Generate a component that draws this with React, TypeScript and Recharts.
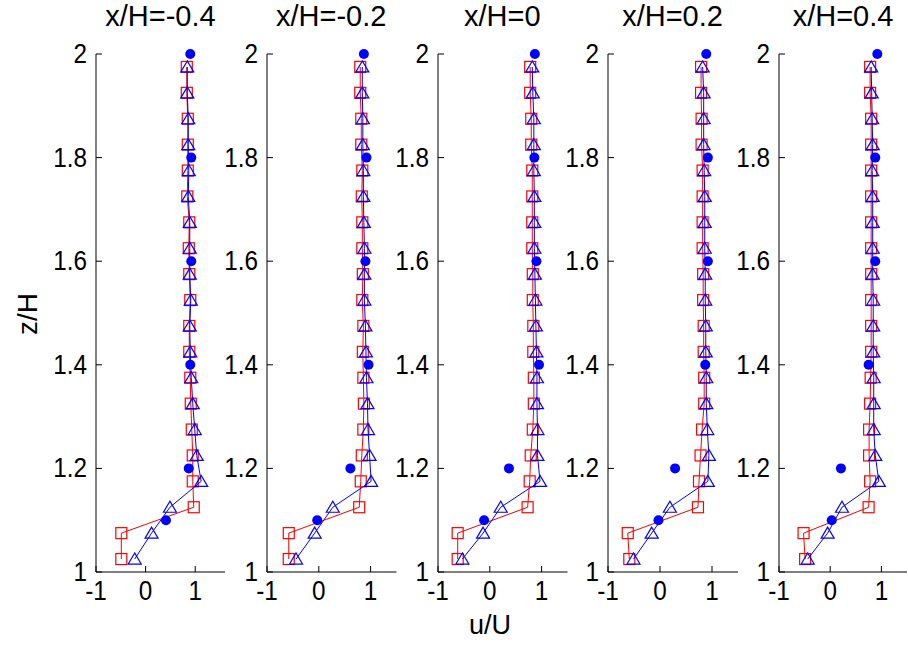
import React from "react";
import { ComposedChart, Scatter, XAxis, YAxis } from "recharts";

// z/H levels of the square / triangle profiles (bottom to top)
const Z_LEVELS = [
  1.025, 1.075, 1.125, 1.175, 1.225, 1.275, 1.325, 1.375, 1.425, 1.475,
  1.525, 1.575, 1.625, 1.675, 1.725, 1.775, 1.825, 1.875, 1.925, 1.975,
];
// z/H levels of the filled dots
const DOT_Z = [1.1, 1.2, 1.4, 1.6, 1.8, 2.0];

const TITLES = ["x/H=-0.4", "x/H=-0.2", "x/H=0", "x/H=0.2", "x/H=0.4"];
const Y_TICKS = [1, 1.2, 1.4, 1.6, 1.8, 2];
const X_TICKS = [-1, 0, 1];

// red squares
const SQ_1 = [-0.49, -0.49, 0.97, 0.95, 0.95, 0.93, 0.91, 0.9, 0.88, 0.88, 0.9, 0.88, 0.87, 0.88, 0.84, 0.85, 0.85, 0.85, 0.83, 0.83];
const SQ_2 = [-0.58, -0.58, 0.78, 0.81, 0.83, 0.86, 0.87, 0.86, 0.85, 0.86, 0.84, 0.85, 0.84, 0.84, 0.83, 0.84, 0.82, 0.82, 0.8, 0.8];
const SQ_3 = [-0.62, -0.62, 0.73, 0.77, 0.79, 0.83, 0.85, 0.85, 0.84, 0.84, 0.83, 0.83, 0.82, 0.82, 0.82, 0.82, 0.8, 0.8, 0.78, 0.78];
const SQ_4 = [-0.59, -0.62, 0.73, 0.75, 0.78, 0.81, 0.85, 0.85, 0.84, 0.84, 0.83, 0.83, 0.82, 0.82, 0.82, 0.82, 0.8, 0.8, 0.79, 0.79];
const SQ_5 = [-0.49, -0.52, 0.75, 0.78, 0.76, 0.76, 0.78, 0.79, 0.8, 0.8, 0.8, 0.8, 0.8, 0.8, 0.8, 0.8, 0.8, 0.8, 0.78, 0.78];

// blue triangles
const TRI_1 = [-0.22, 0.12, 0.49, 1.12, 1.03, 0.99, 0.95, 0.92, 0.9, 0.89, 0.91, 0.89, 0.89, 0.89, 0.86, 0.87, 0.86, 0.86, 0.84, 0.84];
const TRI_2 = [-0.44, -0.08, 0.27, 1.01, 0.98, 0.95, 0.94, 0.92, 0.91, 0.9, 0.88, 0.88, 0.88, 0.87, 0.86, 0.86, 0.85, 0.85, 0.84, 0.84];
const TRI_3 = [-0.53, -0.13, 0.21, 0.97, 0.92, 0.92, 0.91, 0.91, 0.9, 0.89, 0.88, 0.87, 0.86, 0.86, 0.86, 0.85, 0.85, 0.85, 0.83, 0.82];
const TRI_4 = [-0.51, -0.16, 0.19, 0.92, 0.94, 0.91, 0.89, 0.89, 0.88, 0.88, 0.87, 0.87, 0.86, 0.86, 0.86, 0.85, 0.84, 0.84, 0.84, 0.82];
const TRI_5 = [-0.44, -0.05, 0.23, 0.95, 0.88, 0.85, 0.85, 0.85, 0.84, 0.84, 0.84, 0.83, 0.83, 0.83, 0.83, 0.82, 0.83, 0.82, 0.81, 0.8];

// blue filled dots
const DOT_1 = [0.41, 0.87, 0.9, 0.92, 0.92, 0.9];
const DOT_2 = [-0.03, 0.61, 0.96, 0.9, 0.92, 0.87];
const DOT_3 = [-0.11, 0.37, 0.95, 0.9, 0.86, 0.87];
const DOT_4 = [-0.03, 0.29, 0.87, 0.92, 0.92, 0.89];
const DOT_5 = [0.03, 0.21, 0.75, 0.88, 0.88, 0.92];

const SQUARES = [SQ_1, SQ_2, SQ_3, SQ_4, SQ_5];
const TRIANGLES = [TRI_1, TRI_2, TRI_3, TRI_4, TRI_5];
const DOTS = [DOT_1, DOT_2, DOT_3, DOT_4, DOT_5];
const X_MAX = [1.6, 1.5, 1.5, 1.5, 1.5];

// layout (px)
const PANEL_LEFT = [96, 266.5, 437.5, 607.5, 779];
const PANEL_W = [129, 129.5, 129.5, 130, 128];
const PLOT_TOP = 54;
const PLOT_BOTTOM = 572;
const Y_AXIS_W = 60;
const X_AXIS_H = 40;
const H = 645;

const FONT = "'Liberation Sans', Arial, Helvetica, sans-serif";
const RED = "#ff0000";
const BLUE = "#0000ff";
const TICK = 6;

const toPts = (us: number[], zs: number[]) => us.map((u, i) => ({ u, z: zs[i] }));

const LeftTick = (p: any) => (
  <g>
    <line x1={p.x} x2={p.x + TICK} y1={p.y} y2={p.y} stroke="#000" />
    <text
      transform={`translate(${p.x - 9},${p.y + 9}) scale(0.9,1)`}
      textAnchor="end"
      fontSize={27}
      fontFamily={FONT}
      fill="#000"
    >
      {String(p.payload.value)}
    </text>
  </g>
);
const RightTick = (p: any) => (
  <line x1={p.x} x2={p.x - TICK} y1={p.y} y2={p.y} stroke="#000" />
);
const BottomTick = (p: any) => (
  <g>
    <line x1={p.x} x2={p.x} y1={p.y} y2={p.y - TICK} stroke="#000" />
    <text
      transform={`translate(${p.x},${p.y + 28}) scale(0.9,1)`}
      textAnchor="middle"
      fontSize={27}
      fontFamily={FONT}
      fill="#000"
    >
      {String(p.payload.value)}
    </text>
  </g>
);
const TopTick = (p: any) => (
  <line x1={p.x} x2={p.x} y1={p.y} y2={p.y + TICK} stroke="#000" />
);

const Square = (p: any) => (
  <rect x={p.cx - 5.5} y={p.cy - 5.5} width={11} height={11} fill="none" stroke={RED} strokeWidth={1.2} />
);
const Triangle = (p: any) => (
  <polygon
    points={`${p.cx},${p.cy - 6} ${p.cx - 6.5},${p.cy + 5} ${p.cx + 6.5},${p.cy + 5}`}
    fill="none"
    stroke={BLUE}
    strokeWidth={1.2}
  />
);
const Dot = (p: any) => <circle cx={p.cx} cy={p.cy} r={5} fill={BLUE} />;

function Panel({ i }: { i: number }) {
  const w = PANEL_W[i];
  return (
    <div style={{ position: "absolute", left: PANEL_LEFT[i] - Y_AXIS_W, top: 0 }}>
      <ComposedChart
        width={Y_AXIS_W + w + 8}
        height={H}
        margin={{ top: PLOT_TOP, right: 8, left: 0, bottom: H - PLOT_BOTTOM - X_AXIS_H }}
        style={{ overflow: "visible" }}
      >
        <XAxis
          xAxisId="b"
          type="number"
          dataKey="u"
          domain={[-1, X_MAX[i]]}
          ticks={X_TICKS}
          height={X_AXIS_H}
          tickSize={0}
          tickMargin={0}
          tickLine={false}
          axisLine={{ stroke: "#000" }}
          tick={BottomTick}
          interval={0}
        />
        <XAxis
          xAxisId="t"
          orientation="top"
          type="number"
          domain={[-1, X_MAX[i]]}
          ticks={X_TICKS}
          height={0}
          tickSize={0}
          tickMargin={0}
          tickLine={false}
          axisLine={{ stroke: "#000" }}
          tick={TopTick}
          interval={0}
        />
        <YAxis
          yAxisId="l"
          type="number"
          dataKey="z"
          domain={[1, 2]}
          ticks={Y_TICKS}
          width={Y_AXIS_W}
          tickSize={0}
          tickMargin={0}
          tickLine={false}
          axisLine={{ stroke: "#000" }}
          tick={LeftTick}
          interval={0}
        />
        <YAxis
          yAxisId="r"
          orientation="right"
          type="number"
          domain={[1, 2]}
          ticks={Y_TICKS}
          width={0}
          tickSize={0}
          tickMargin={0}
          tickLine={false}
          axisLine={{ stroke: "#000" }}
          tick={RightTick}
          interval={0}
        />
        <Scatter
          xAxisId="b"
          yAxisId="l"
          data={toPts(SQUARES[i], Z_LEVELS)}
          line={{ stroke: RED, strokeWidth: 1 }}
          lineType="joint"
          shape={Square}
          isAnimationActive={false}
        />
        <Scatter
          xAxisId="b"
          yAxisId="l"
          data={toPts(TRIANGLES[i], Z_LEVELS)}
          line={{ stroke: BLUE, strokeWidth: 1 }}
          lineType="joint"
          shape={Triangle}
          isAnimationActive={false}
        />
        <Scatter
          xAxisId="b"
          yAxisId="l"
          data={toPts(DOTS[i], DOT_Z)}
          shape={Dot}
          isAnimationActive={false}
        />
      </ComposedChart>
      <div
        style={{
          position: "absolute",
          left: Y_AXIS_W - 20,
          width: w + 40,
          top: 0,
          textAlign: "center",
          fontFamily: FONT,
          fontSize: 29,
          whiteSpace: "nowrap",
        }}
      >
        {TITLES[i]}
      </div>
    </div>
  );
}

export default function App() {
  return (
    <div style={{ position: "absolute", left: 0, top: 0, width: 908, height: H, background: "#fff", overflow: "hidden" }}>
      {TITLES.map((_, i) => (
        <Panel key={i} i={i} />
      ))}
      <div
        style={{
          position: "absolute",
          left: 440,
          width: 100,
          top: 610,
          textAlign: "center",
          fontFamily: FONT,
          fontSize: 27,
        }}
      >
        u/U
      </div>
      <div
        style={{
          position: "absolute",
          left: -22,
          width: 100,
          top: 298,
          textAlign: "center",
          fontFamily: FONT,
          fontSize: 28,
          transform: "rotate(-90deg)",
        }}
      >
        z/H
      </div>
    </div>
  );
}
